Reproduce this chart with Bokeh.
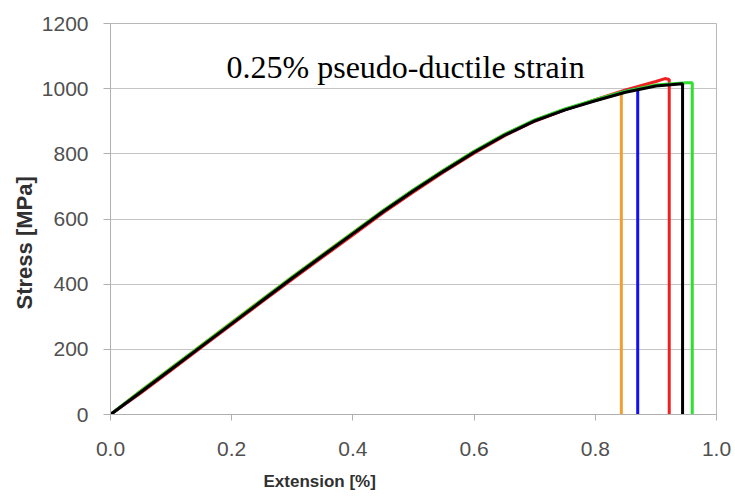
from bokeh.plotting import figure
from bokeh.models import Range1d, FixedTicker, NumeralTickFormatter, Label, Title
from bokeh.embed import file_html
from bokeh.resources import INLINE

# ---- data ----
x_ticks = [0.0, 0.2, 0.4, 0.6, 0.8, 1.0]
y_ticks = [0, 200, 400, 600, 800, 1000, 1200]

orange_x = [0, 0.05, 0.10, 0.15, 0.20, 0.25, 0.30, 0.35, 0.40, 0.45, 0.50, 0.55, 0.60, 0.65, 0.70, 0.75, 0.80, 0.843, 0.843]
orange_y = [0, 73, 143, 213, 283, 353, 423, 491, 559, 626, 690, 750, 808, 860, 903, 937, 965, 989, 0]

blue_x = [0, 0.05, 0.10, 0.15, 0.20, 0.25, 0.30, 0.35, 0.40, 0.45, 0.50, 0.55, 0.60, 0.65, 0.70, 0.75, 0.80, 0.85, 0.870, 0.870]
blue_y = [0, 70, 140, 210, 280, 350, 420, 488, 556, 624, 688, 748, 806, 858, 902, 936, 964, 992, 1000, 0]

red_x = [0, 0.05, 0.10, 0.15, 0.20, 0.25, 0.30, 0.35, 0.40, 0.45, 0.50, 0.55, 0.60, 0.65, 0.70, 0.75, 0.80, 0.85, 0.90, 0.915, 0.922, 0.922]
red_y = [0, 66, 136, 206, 276, 346, 415, 483, 551, 619, 683, 744, 802, 855, 900, 935, 966, 996, 1022, 1031, 1028, 0]

green_x = [0, 0.05, 0.10, 0.15, 0.20, 0.25, 0.30, 0.35, 0.40, 0.45, 0.50, 0.55, 0.60, 0.65, 0.70, 0.75, 0.80, 0.85, 0.90, 0.95, 0.960, 0.960]
green_y = [0, 72, 142, 212, 282, 352, 422, 490, 558, 626, 690, 750, 808, 860, 904, 938, 966, 992, 1011, 1018, 1018, 0]

black_x = [0, 0.05, 0.10, 0.15, 0.20, 0.25, 0.30, 0.35, 0.40, 0.45, 0.50, 0.55, 0.60, 0.65, 0.70, 0.75, 0.80, 0.85, 0.90, 0.944, 0.944]
black_y = [0, 69, 139, 209, 279, 349, 419, 487, 555, 623, 687, 747, 805, 857, 901, 935, 963, 989, 1008, 1015, 0]

series = [
    (red_x, red_y, "#f02020"),
    (orange_x, orange_y, "#f0a030"),
    (blue_x, blue_y, "#1010f0"),
    (green_x, green_y, "#30e030"),
    (black_x, black_y, "#000000"),
]

annotation_text = "0.25% pseudo-ductile strain"
x_label = "Extension [%]"
y_label = "Stress [MPa]"

p = figure(width=735, height=501, output_backend="svg", toolbar_location=None,
           x_range=Range1d(0, 1.0), y_range=Range1d(0, 1200),
           min_border_left=110, min_border_right=19, min_border_top=23, min_border_bottom=86)

for xs, ys, c in series:
    p.line(xs, ys, line_color=c, line_width=3)

p.background_fill_color = "white"
p.border_fill_color = "white"
p.outline_line_color = "#b8b8b8"
p.outline_line_width = 1

p.xgrid.visible = False
p.ygrid.ticker = FixedTicker(ticks=y_ticks)
p.ygrid.grid_line_color = "#c4c4c4"
p.ygrid.grid_line_width = 1

p.xaxis.ticker = FixedTicker(ticks=x_ticks)
p.xaxis.formatter = NumeralTickFormatter(format="0.0")
p.yaxis.ticker = FixedTicker(ticks=y_ticks)

for ax in (p.xaxis[0], p.yaxis[0]):
    ax.axis_line_color = "#b0b0b0"
    ax.major_tick_line_color = "#b0b0b0"
    ax.minor_tick_line_color = None
    ax.major_tick_in = 0
    ax.minor_tick_in = 0
    ax.minor_tick_out = 0
    ax.major_label_text_font = "Liberation Sans"
    ax.major_label_text_font_size = "21px"
    ax.major_label_text_color = "#505050"

p.xaxis.major_tick_out = 6
p.xaxis.major_label_standoff = 21
p.yaxis.major_tick_out = 7
p.yaxis.major_label_standoff = 15

p.add_layout(Title(text=y_label, align="left", offset=105, standoff=4,
                   text_font="Liberation Sans", text_font_style="bold",
                   text_font_size="22px", text_color="#303030"), "left")

p.add_layout(Title(text=x_label, align="left", offset=153, standoff=22,
                   text_font="Liberation Sans", text_font_style="bold",
                   text_font_size="17px", text_color="#303030"), "below")

p.add_layout(Label(x=0.487, y=1066, text=annotation_text,
                   text_font="Liberation Serif", text_font_size="32px",
                   text_color="#000000", text_align="center",
                   text_baseline="alphabetic"))

open("out.html", "w").write(file_html(p, INLINE))
